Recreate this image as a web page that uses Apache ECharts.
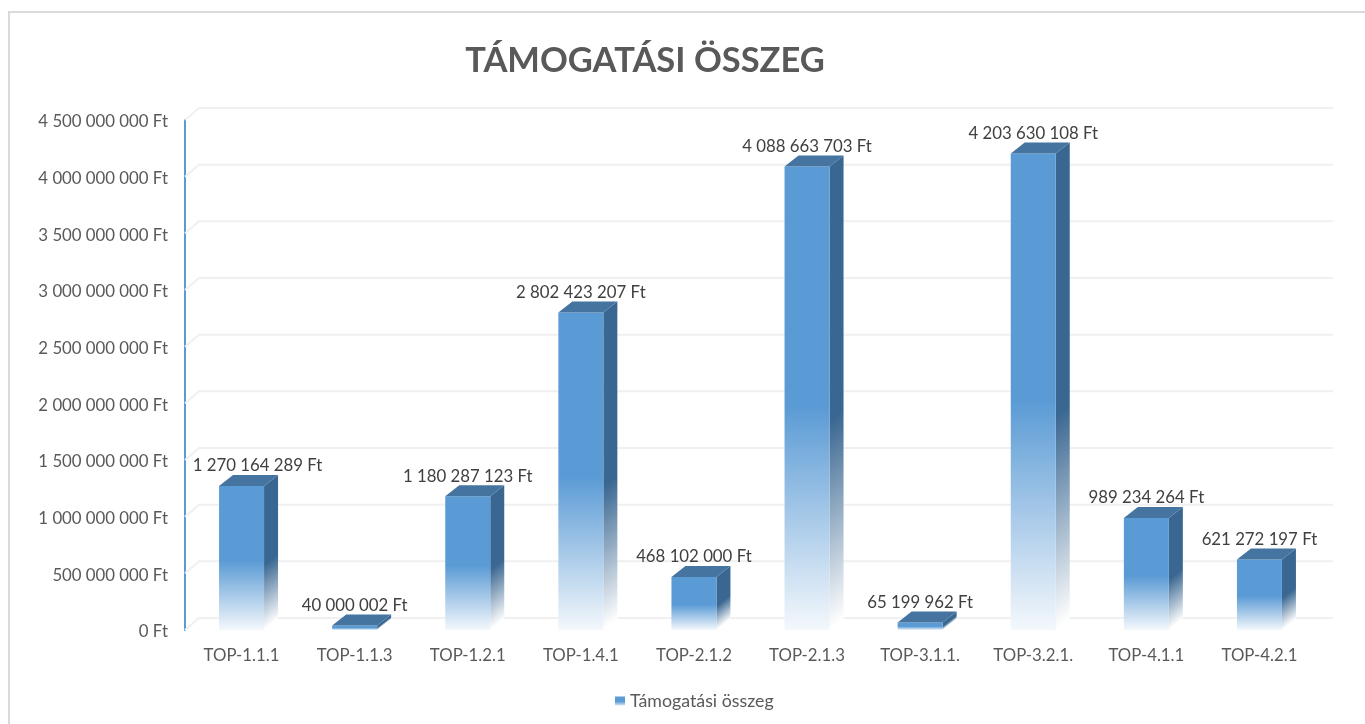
<!DOCTYPE html>
<html>
<head>
<meta charset="utf-8">
<style>
  html, body {margin: 0; padding: 0; background: #fff;}
  #chart {width: 1365px; height: 724px;}
</style>
<script src="https://cdn.jsdelivr.net/npm/echarts@6/dist/echarts.min.js"></script>
</head>
<body>
<div id="chart"></div>
<script>
  const categories = ['TOP-1.1.1', 'TOP-1.1.3', 'TOP-1.2.1', 'TOP-1.4.1', 'TOP-2.1.2', 'TOP-2.1.3', 'TOP-3.1.1.', 'TOP-3.2.1.', 'TOP-4.1.1', 'TOP-4.2.1'];
  const amounts = [1270164289, 40000002, 1180287123, 2802423207, 468102000, 4088663703, 65199962, 4203630108, 989234264, 621272197];
  const gridTicks = [0, 500000000, 1000000000, 1500000000, 2000000000, 2500000000, 3000000000, 3500000000, 4000000000, 4500000000];
  const seriesName = 'Támogatási összeg';

  const FONT = 'Lato, "Noto Sans", sans-serif';
  // depth of the fake 3d box
  const DX = 14;
  const DY = -11;
  const BAR_W = 45;

  function formatFt(v) {
    return String(v).replace(/\B(?=(\d{3})+$)/g, ' ') + ' Ft';
  }

  // fades along the slant of the side face, so the fade follows the box
  function fade(x, y, h, stops, slanted) {
    const k = slanted ? 14 * h / 317 : h / 14;
    return {
      type: 'linear', global: true,
      x: x, y: y,
      x2: x + (slanted ? 11 * k : 0), y2: y + 14 * k,
      colorStops: stops
    };
  }

  function renderGrid(params, api) {
    const y = api.coord([0, api.value(0)])[1];
    const cs = params.coordSys;
    return {
      type: 'polyline',
      shape: {points: [[cs.x, y], [cs.x + DX, y + DY - 1], [cs.x + cs.width + DX + 3, y + DY - 1]]},
      style: {fill: null, stroke: '#f0f0f0', lineWidth: 2},
      silent: true
    };
  }

  function renderBar(params, api) {
    const i = api.value(0);
    const val = api.value(1);
    const top = api.coord([i, val]);
    const base = api.coord([i, 0]);
    const x0 = top[0] - BAR_W / 2;
    const x1 = top[0] + BAR_W / 2;
    const h = base[1] - top[1];
    return {
      type: 'group',
      children: [
        {
          type: 'polygon',
          shape: {points: [[x1, top[1]], [x1 + DX, top[1] + DY], [x1 + DX, base[1] + DY], [x1, base[1]]]},
          style: {
            fill: fade(x1, top[1], h, [
              {offset: 0, color: '#3a6791'},
              {offset: 0.55, color: '#3a6791'},
              {offset: 1, color: '#ffffff'}
            ], true)
          }
        },
        {
          type: 'rect',
          shape: {x: x0, y: top[1], width: BAR_W, height: h},
          style: {
            fill: fade(x0, top[1], h, [
              {offset: 0, color: '#5b9bd5'},
              {offset: 0.52, color: '#5b9bd5'},
              {offset: 1, color: '#f4f8fc'}
            ], false)
          }
        },
        {
          type: 'polygon',
          shape: {points: [[x0, top[1]], [x0 + DX, top[1] + DY], [x1 + DX, top[1] + DY], [x1, top[1]]]},
          style: {fill: '#44749f'}
        },
        {
          type: 'text',
          // first label is pushed right, off the axis labels
          x: top[0] + (i === 0 ? 16 : 0),
          y: top[1] - 20,
          style: {
            text: formatFt(val),
            align: 'center', verticalAlign: 'middle',
            fill: '#404040', font: '16.8px ' + FONT
          }
        }
      ]
    };
  }

  const chart = echarts.init(document.getElementById('chart'), null, {renderer: 'canvas'});
  chart.setOption({
    backgroundColor: '#fff',
    animation: false,
    title: {
      text: 'TÁMOGATÁSI ÖSSZEG',
      left: 640, top: 38, textAlign: 'center',
      textStyle: {fontFamily: FONT, fontSize: 34.5, fontWeight: 'bold', color: '#595959'}
    },
    legend: {
      data: [seriesName],
      left: 610, top: 687,
      icon: 'rect', itemWidth: 10, itemHeight: 9, itemGap: 6,
      textStyle: {fontFamily: FONT, fontSize: 17.8, color: '#595959'}
    },
    graphic: [{
      type: 'polyline',
      shape: {points: [[9, 724], [9, 12], [1365, 12]]},
      style: {fill: null, stroke: '#d9d9d9', lineWidth: 2},
      silent: true, z: -10
    }],
    grid: {left: 185, right: 49, top: 120, bottom: 94},
    xAxis: {
      type: 'category',
      data: categories,
      axisLine: {show: false},
      axisTick: {show: false},
      axisLabel: {margin: 17, fontFamily: FONT, fontSize: 16.8, color: '#595959'}
    },
    yAxis: {
      type: 'value',
      min: 0,
      max: 4500000000,
      interval: 500000000,
      splitLine: {show: false},
      axisTick: {show: false},
      axisLine: {show: true, onZero: false, lineStyle: {color: '#5b9bd5', width: 2}},
      axisLabel: {
        margin: 17, fontFamily: FONT, fontSize: 16.8, color: '#595959',
        verticalAlign: 'top', lineHeight: 4,
        formatter: formatFt
      }
    },
    series: [
      {
        name: 'walls',
        type: 'custom',
        renderItem: renderGrid,
        encode: {y: 0},
        data: gridTicks.map(v => [v]),
        silent: true, z: 1
      },
      {
        name: seriesName,
        type: 'custom',
        renderItem: renderBar,
        encode: {x: 0, y: 1},
        data: amounts.map((v, i) => [i, v]),
        itemStyle: {
          color: {
            type: 'linear', x: 0, y: 0, x2: 0, y2: 1,
            colorStops: [{offset: 0, color: '#5b9bd5'}, {offset: 0.55, color: '#5b9bd5'}, {offset: 1, color: '#d6e5f4'}]
          }
        },
        z: 2
      }
    ]
  });
</script>
</body>
</html>
